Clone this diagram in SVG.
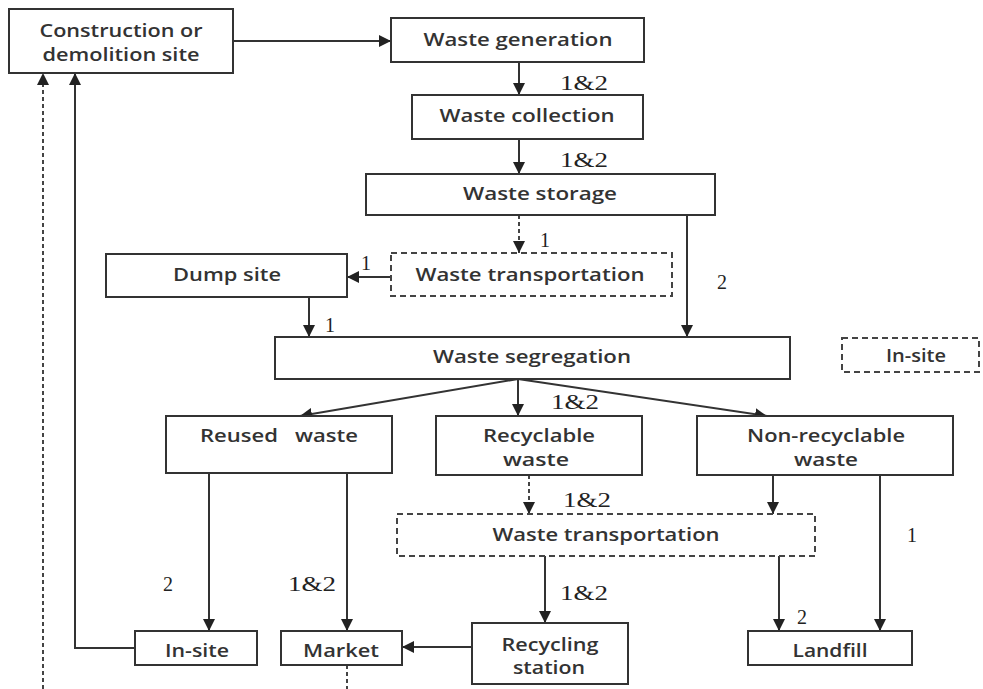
<svg xmlns="http://www.w3.org/2000/svg" width="983" height="689" viewBox="0 0 983 689">
<defs>
<style>
.box{fill:#fff;stroke:#333;stroke-width:2}
.dbox{fill:#fff;stroke:#444;stroke-width:2;stroke-dasharray:6 4}
.t{font-family:"Open Sans","Liberation Sans",sans-serif;font-size:18px;font-weight:600;fill:#333;text-anchor:middle;white-space:pre}
.n{font-family:"Liberation Serif","Times New Roman",serif;font-size:20px;fill:#222}
.c{fill:none;stroke:#333;stroke-width:2}
.cd{fill:none;stroke:#444;stroke-width:2;stroke-dasharray:4 3}
</style>
<marker id="ah" viewBox="0 0 10 10" refX="10" refY="5" markerWidth="12" markerHeight="12" markerUnits="userSpaceOnUse" orient="auto">
<path d="M0,0 L10,5 L0,10 Z" fill="#222"/>
</marker>
</defs>
<rect width="983" height="689" fill="#fff"/>

<g id="connectors">
<line class="c" x1="233" y1="41" x2="391" y2="41" marker-end="url(#ah)"/>
<line class="c" x1="519" y1="62" x2="519" y2="95" marker-end="url(#ah)"/>
<line class="c" x1="519" y1="139" x2="519" y2="174" marker-end="url(#ah)"/>
<line class="cd" x1="519" y1="215" x2="519" y2="253" marker-end="url(#ah)"/>
<line class="c" x1="391" y1="277" x2="347" y2="277" marker-end="url(#ah)"/>
<line class="c" x1="309" y1="297" x2="309" y2="337" marker-end="url(#ah)"/>
<line class="c" x1="687" y1="215" x2="687" y2="337" marker-end="url(#ah)"/>
<line class="c" x1="518" y1="379" x2="300" y2="416" marker-end="url(#ah)"/>
<line class="c" x1="518" y1="379" x2="518" y2="416" marker-end="url(#ah)"/>
<line class="c" x1="518" y1="379" x2="767" y2="416" marker-end="url(#ah)"/>
<line class="cd" x1="529" y1="475" x2="529" y2="514" marker-end="url(#ah)"/>
<line class="c" x1="773" y1="475" x2="773" y2="514" marker-end="url(#ah)"/>
<line class="c" x1="545" y1="556" x2="545" y2="623" marker-end="url(#ah)"/>
<line class="c" x1="779" y1="556" x2="779" y2="631" marker-end="url(#ah)"/>
<line class="c" x1="880" y1="475" x2="880" y2="631" marker-end="url(#ah)"/>
<line class="c" x1="209" y1="473" x2="209" y2="631" marker-end="url(#ah)"/>
<line class="c" x1="347" y1="473" x2="347" y2="631" marker-end="url(#ah)"/>
<line class="c" x1="472" y1="647" x2="402" y2="647" marker-end="url(#ah)"/>
<polyline class="c" points="135,648 75,648 75,73" marker-end="url(#ah)"/>
<line class="cd" x1="43" y1="689" x2="43" y2="73" marker-end="url(#ah)"/>
<line class="cd" x1="347" y1="665" x2="347" y2="689"/>
</g>

<g id="labels">
<text class="n" x="560" y="90" textLength="48" lengthAdjust="spacingAndGlyphs">1&amp;2</text>
<text class="n" x="560" y="167" textLength="48" lengthAdjust="spacingAndGlyphs">1&amp;2</text>
<text class="n" x="540" y="247">1</text>
<text class="n" x="361" y="270">1</text>
<text class="n" x="325" y="332">1</text>
<text class="n" x="717" y="289">2</text>
<text class="n" x="551" y="409" textLength="48" lengthAdjust="spacingAndGlyphs">1&amp;2</text>
<text class="n" x="563" y="507" textLength="48" lengthAdjust="spacingAndGlyphs">1&amp;2</text>
<text class="n" x="163" y="591">2</text>
<text class="n" x="288" y="591" textLength="48" lengthAdjust="spacingAndGlyphs">1&amp;2</text>
<text class="n" x="560" y="600" textLength="48" lengthAdjust="spacingAndGlyphs">1&amp;2</text>
<text class="n" x="797" y="624">2</text>
<text class="n" x="907" y="542">1</text>
</g>

<g id="construction">
<rect class="box" x="9" y="9" width="224" height="64"/>
<text class="t" x="121" y="37" textLength="163" lengthAdjust="spacingAndGlyphs">Construction or</text>
<text class="t" x="121" y="61" textLength="157" lengthAdjust="spacingAndGlyphs">demolition site</text>
</g>
<g id="generation">
<rect class="box" x="391" y="18" width="253" height="44"/>
<text class="t" x="518" y="46" textLength="189" lengthAdjust="spacingAndGlyphs">Waste generation</text>
</g>
<g id="collection">
<rect class="box" x="412" y="95" width="231" height="44"/>
<text class="t" x="527" y="122" textLength="175" lengthAdjust="spacingAndGlyphs">Waste collection</text>
</g>
<g id="storage">
<rect class="box" x="366" y="174" width="349" height="41"/>
<text class="t" x="540" y="200" textLength="154" lengthAdjust="spacingAndGlyphs">Waste storage</text>
</g>
<g id="transport1">
<rect class="dbox" x="391" y="253" width="281" height="43"/>
<text class="t" x="530" y="281" textLength="229" lengthAdjust="spacingAndGlyphs">Waste transportation</text>
</g>
<g id="dump">
<rect class="box" x="106" y="254" width="241" height="43"/>
<text class="t" x="227" y="281" textLength="108" lengthAdjust="spacingAndGlyphs">Dump site</text>
</g>
<g id="segregation">
<rect class="box" x="275" y="337" width="515" height="42"/>
<text class="t" x="532" y="363" textLength="198" lengthAdjust="spacingAndGlyphs">Waste segregation</text>
</g>
<g id="legend-insite">
<rect class="dbox" x="842" y="338" width="137" height="34"/>
<text class="t" x="916" y="362" textLength="60" lengthAdjust="spacingAndGlyphs">In-site</text>
</g>
<g id="reused">
<rect class="box" x="166" y="416" width="226" height="57"/>
<text class="t" x="279" y="442" textLength="158" lengthAdjust="spacingAndGlyphs" xml:space="preserve">Reused   waste</text>
</g>
<g id="recyclable">
<rect class="box" x="436" y="416" width="206" height="59"/>
<text class="t" x="539" y="442" textLength="112" lengthAdjust="spacingAndGlyphs">Recyclable</text>
<text class="t" x="536" y="466" textLength="66" lengthAdjust="spacingAndGlyphs">waste</text>
</g>
<g id="nonrecyclable">
<rect class="box" x="697" y="416" width="256" height="59"/>
<text class="t" x="826" y="442" textLength="158" lengthAdjust="spacingAndGlyphs">Non-recyclable</text>
<text class="t" x="826" y="466" textLength="64" lengthAdjust="spacingAndGlyphs">waste</text>
</g>
<g id="transport2">
<rect class="dbox" x="397" y="514" width="418" height="42"/>
<text class="t" x="606" y="541" textLength="227" lengthAdjust="spacingAndGlyphs">Waste transportation</text>
</g>
<g id="insite">
<rect class="box" x="135" y="631" width="122" height="34"/>
<text class="t" x="197" y="657" textLength="64" lengthAdjust="spacingAndGlyphs">In-site</text>
</g>
<g id="market">
<rect class="box" x="281" y="631" width="121" height="34"/>
<text class="t" x="341" y="657" textLength="76" lengthAdjust="spacingAndGlyphs">Market</text>
</g>
<g id="recycling">
<rect class="box" x="472" y="623" width="156" height="61"/>
<text class="t" x="550" y="651" textLength="97" lengthAdjust="spacingAndGlyphs">Recycling</text>
<text class="t" x="549" y="674" textLength="72" lengthAdjust="spacingAndGlyphs">station</text>
</g>
<g id="landfill">
<rect class="box" x="748" y="631" width="164" height="34"/>
<text class="t" x="830" y="657" textLength="75" lengthAdjust="spacingAndGlyphs">Landfill</text>
</g>
</svg>
